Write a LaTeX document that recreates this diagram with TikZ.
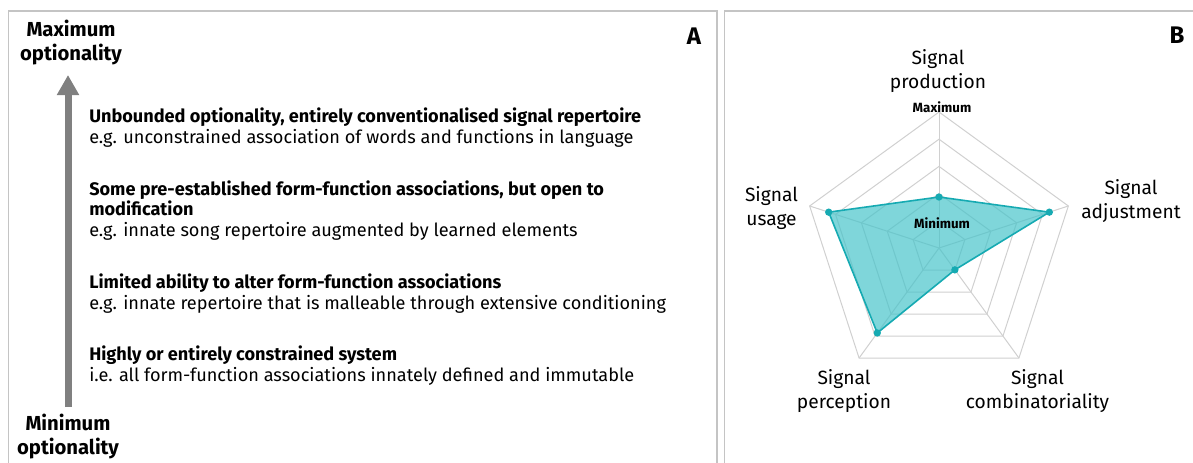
\documentclass[tikz,border=0pt]{standalone}
\usepackage{fontspec}
\setmainfont{Fira Sans}
\usetikzlibrary{arrows.meta}
\definecolor{framegray}{RGB}{196,196,196}
\definecolor{gridgray}{RGB}{208,208,208}
\definecolor{tealline}{RGB}{22,170,178}
\definecolor{tealfill}{RGB}{72,196,202}
\definecolor{arrowgray}{RGB}{128,128,128}
\begin{document}
\begin{tikzpicture}[x=0.75pt,y=-0.75pt,
  panel/.style={draw=framegray,line width=1.1pt},
  endlabel/.style={font=\fontsize{15.2}{18}\selectfont\bfseries,align=center,inner sep=0},
  headline/.style={anchor=mid west,font=\fontsize{13.6}{16}\selectfont\bfseries,inner sep=0},
  example/.style={anchor=mid west,font=\fontsize{13.6}{16}\selectfont,inner sep=0},
  letter/.style={font=\fontsize{18}{20}\selectfont\bfseries,inner sep=0},
  dimlabel/.style={font=\fontsize{14.4}{17.8}\selectfont,align=center,inner sep=0},
  levellabel/.style={font=\fontsize{10}{12}\selectfont\bfseries,inner sep=0},
  ring/.style={draw=gridgray,line width=0.75pt},
  profile/.style={draw=tealline,line width=1.2pt,fill=tealfill,fill opacity=0.7,line join=round},
  dot/.style={circle,fill=tealline,inner sep=0,minimum size=5.5pt},
  scalearrow/.style={draw=arrowgray,line width=5.25pt,-{Triangle[width=15.75pt,length=15pt]}},
]
\useasboundingbox (0,0) rectangle (1193,462);

% panel frames (open at the bottom)
\draw[panel] (8.5,470) |- (717,11) -- (717,470);
\draw[panel] (724.5,470) |- (1200,11);

% ---------- panel A ----------
\node[letter] (letA) at (694,36) {A};
\node[endlabel] (maxopt) at (71,43) {Maximum\\optionality};
\node[endlabel] (minopt) at (68,436.5) {Minimum\\optionality};
\coordinate (arrlow) at (68,407);
\coordinate (arrtip) at (68,75);
\draw[scalearrow] (arrlow) -- (arrtip);

\node[headline] (h1)  at (89,118.5) {Unbounded optionality, entirely conventionalised signal repertoire};
\node[example]  (e1)  at (89,139.5) {e.g. unconstrained association of words and functions in language};
\node[headline] (h2a) at (89,191.5) {Some pre-established form-function associations, but open to};
\node[headline] (h2b) at (89,212) {modification};
\node[example]  (e2)  at (89,233) {e.g. innate song repertoire augmented by learned elements};
\node[headline] (h3)  at (89,285) {Limited ability to alter form-function associations};
\node[example]  (e3)  at (89,306) {e.g. innate repertoire that is malleable through extensive conditioning};
\node[headline] (h4)  at (89,357) {Highly or entirely constrained system};
\node[example]  (e4)  at (89,378) {i.e. all form-function associations innately defined and immutable};

% ---------- panel B ----------
\node[letter] (letB) at (1177,35) {B};
\begin{scope}[shift={(939,248)}]
  % spokes
  \foreach \a in {-90,-18,54,126,198}
    \draw[ring] (0,0) -- (\a:136);
  % rings
  \foreach \r in {27.2,54.4,81.6,108.8,136}
    \draw[ring] (-90:\r) -- (-18:\r) -- (54:\r) -- (126:\r) -- (198:\r) -- cycle;
  % profile values
  \coordinate (vprod) at (-90:51);
  \coordinate (vadj)  at (-18:116);
  \coordinate (vcomb) at (54:27);
  \coordinate (vperc) at (126:105);
  \coordinate (vuse)  at (198:116);
  \path[profile] (vprod) -- (vadj) -- (vcomb) -- (vperc) -- (vuse) -- cycle;
  \foreach \p in {vprod,vadj,vcomb,vperc,vuse}
    \node[dot] at (\p) {};
\end{scope}
\node[levellabel] (lmax) at (942,107) {Maximum};
\node[levellabel] (lmin) at (942,223) {Minimum};

\node[dimlabel] (dprod) at (938,71)    {Signal\\production};
\node[dimlabel] (dadj)  at (1131,201)  {Signal\\adjustment};
\node[dimlabel] (duse)  at (771.5,208) {Signal\\usage};
\node[dimlabel] (dperc) at (844,391)   {Signal\\perception};
\node[dimlabel] (dcomb) at (1037.5,391){Signal\\combinatoriality};
\end{tikzpicture}
\end{document}
